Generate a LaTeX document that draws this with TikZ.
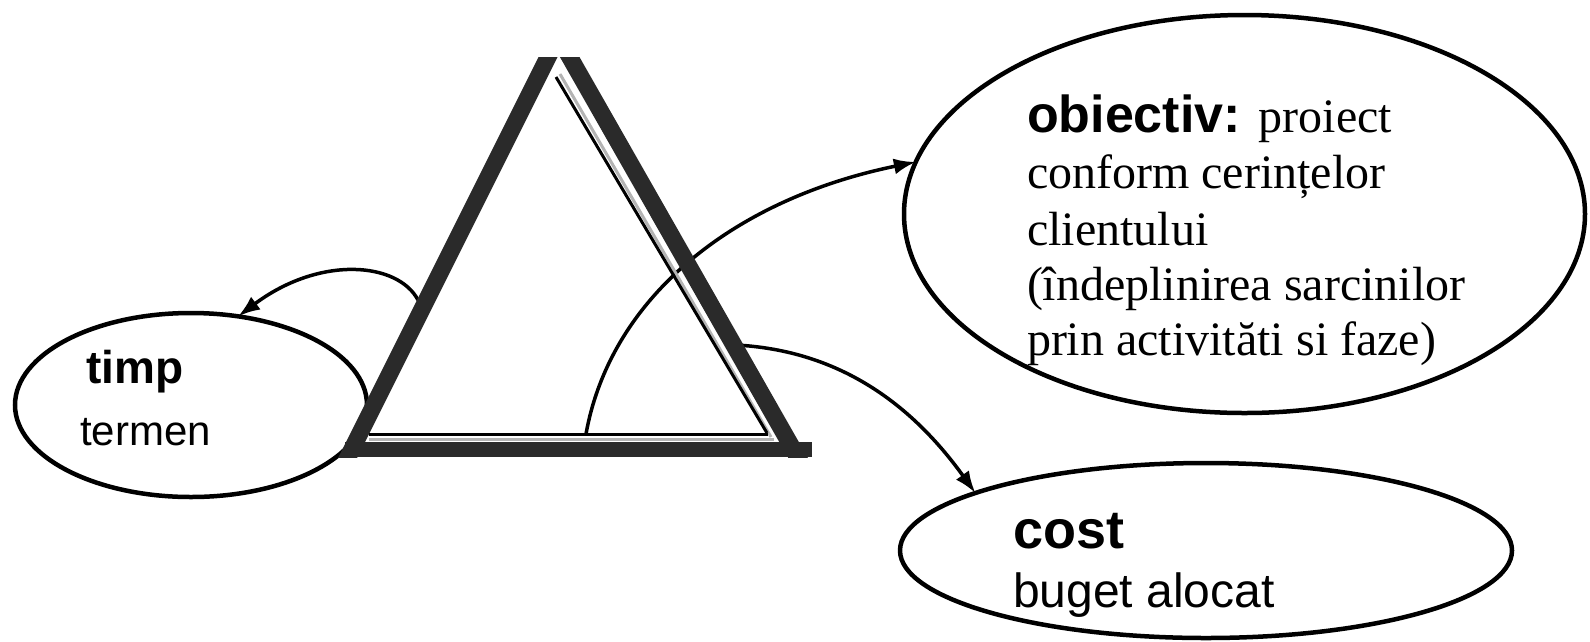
\documentclass[tikz,border=0pt]{standalone}
\usepackage{fontspec}
\setmainfont{Liberation Serif}
\setsansfont{Liberation Sans}
\usetikzlibrary{shapes.geometric,arrows.meta}
\definecolor{tridark}{HTML}{2A2A2A}
\definecolor{trigray}{HTML}{B4B4B4}
\begin{document}
\begin{tikzpicture}[x=1pt,y=-1pt,
  ell/.style={draw=black, line width=4.5pt, ellipse, inner sep=0pt, outer sep=0pt},
  arr/.style={draw=black, line width=3.5pt, -{Latex[length=22pt,width=16pt]}},
  tri/.style={draw=tridark, line width=17pt, line cap=butt},
  trithin/.style={draw=black, line width=3pt},
  trigap/.style={draw=trigray, line width=3pt},
  lbl/.style={anchor=base west, inner sep=0pt, outer sep=0pt, text=black}]
\useasboundingbox (0,0) rectangle (1590,641);

% ellipses
\node[ell, minimum width=352pt, minimum height=184pt] (timp) at (191,405) {};
\node[ell, minimum width=681pt, minimum height=398pt] (obj) at (1244.5,214) {};
\node[ell, minimum width=612pt, minimum height=175pt] (cost) at (1206,550.5) {};

% connector start points on the triangle
\coordinate (tA) at (418,300);
\coordinate (oA) at (586,434);
\coordinate (cA) at (736,345);

% connectors
\draw[arr] (tA) .. controls (398,262) and (320,255) .. (timp.62.7);
\draw[arr] (oA) .. controls (610,300) and (730,200) .. (obj.171.46);
\draw[arr] (cA) .. controls (830,350) and (905,395) .. (cost.166.4);

% triangle
\begin{scope}
  \clip (300,57) rectangle (850,457);
  \draw[tri] (556.5,40) -- (341.5,470);
  \draw[tri] (560,40) -- (805,470);
\end{scope}
\draw[trigap] (560,74) -- (771,437);
\draw[trithin] (556,77) -- (767,433);
\draw[trigap] (369,439.5) -- (774,439.5);
\draw[trithin] (369,434.5) -- (768,434.5);
\fill[tridark] (345,442) rectangle (812,457);

% texts
\node[lbl] (timpT) at (86,383) {\sffamily\bfseries\fontsize{46}{55}\selectfont timp};
\node[lbl] (termT) at (80,445) {\sffamily\fontsize{42}{50}\selectfont termen};

\node[lbl] (costT) at (1013,548) {\sffamily\bfseries\fontsize{54}{64}\selectfont cost};
\node[lbl] (bugT) at (1013,607) {\sffamily\fontsize{48}{58}\selectfont buget alocat};

\node[lbl] (o1) at (1027,132) {{\sffamily\bfseries\fontsize{52}{62}\selectfont obiectiv:}\hspace{18pt}{\fontsize{48}{56}\selectfont proiect}};
\node[lbl] (o2) at (1027,188) {\fontsize{48}{56}\selectfont conform cerințelor};
\node[lbl] (o3) at (1027,245) {\fontsize{48}{56}\selectfont clientului};
\node[lbl] (o4) at (1027,300) {\fontsize{48}{56}\selectfont (îndeplinirea sarcinilor};
\node[lbl] (o5) at (1027,355) {\fontsize{48}{56}\selectfont prin activităti si faze)};
\end{tikzpicture}
\end{document}
